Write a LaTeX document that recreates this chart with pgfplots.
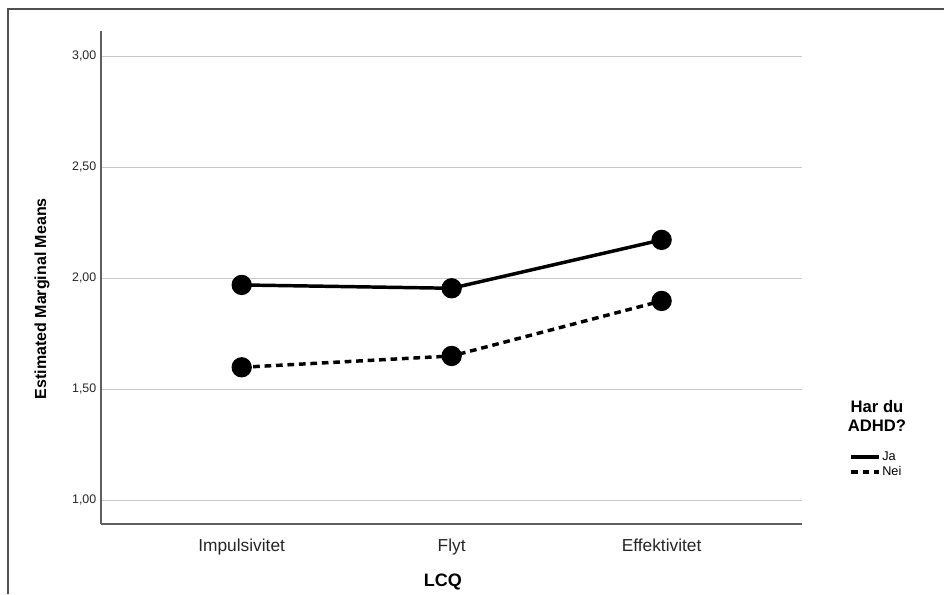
\documentclass[border=0pt]{standalone}
\usepackage{pgfplots}
\pgfplotsset{compat=1.18}
\usepackage{fontspec}
\setmainfont{Liberation Sans}
\definecolor{gridc}{RGB}{200,200,200}
\definecolor{axc}{RGB}{95,95,95}
\definecolor{framec}{RGB}{80,80,80}
\begin{document}
\begin{tikzpicture}
\begin{axis}[
  scale only axis,
  width=525.5pt, height=369.75pt,
  xmin=-0.670, xmax=2.667,
  ymin=0.893, ymax=3.114,
  axis lines=left,
  axis line style={-, color=axc, line width=1pt},
  xtick=data,
  xticklabels={Impulsivitet, Flyt, Effektivitet},
  ytick={1,1.5,2,2.5,3},
  major tick length=0pt,
  ymajorgrids,
  grid style={color=gridc, line width=1pt},
  /pgf/number format/assume math mode=true,
  yticklabel style={font=\fontsize{9.3}{11}\selectfont, color=black!85, /pgf/number format/fixed, /pgf/number format/fixed zerofill, /pgf/number format/precision=2, /pgf/number format/use comma},
  xticklabel style={font=\fontsize{13}{15}\selectfont, color=black!85, anchor=north, yshift=-8pt},
  ylabel={Estimated Marginal Means},
  xlabel={LCQ},
  every axis y label/.style={at={(axis description cs:-0.0842,0.457)}, rotate=90, anchor=center, font=\fontsize{12}{14}\selectfont\bfseries},
  every axis x label/.style={at={(axis description cs:0.488,-0.1166)}, anchor=center, font=\fontsize{13.5}{16}\selectfont\bfseries},
  legend style={at={(axis description cs:1.0675,0.150)}, anchor=north west, draw=none, fill=none, inner sep=0pt, font=\fontsize{9.5}{11}\selectfont, row sep=1pt, nodes={inner sep=1pt}},
  legend cell align=left,
  legend image code/.code={\draw[#1,mark=none,line width=2.8pt] (0pt,0pt) -- (21pt,0pt);},
  clip=false,
]
\addplot[black, line width=2.6pt, mark=*, mark size=6.3pt, mark options={solid}] coordinates {(0,1.970) (1,1.955) (2,2.173)};
\addlegendentry{Ja}
\addplot[black, line width=2.6pt, dash pattern=on 5pt off 3.6pt, mark=*, mark size=6.3pt, mark options={solid}] coordinates {(0,1.599) (1,1.650) (2,1.898)};
\addlegendentry{Nei}
\node[align=center, font=\fontsize{12.5}{14}\selectfont\bfseries, inner sep=0pt] at (axis description cs:1.1075,0.219) {Har du\\ADHD?};
\end{axis}
\draw[framec, line width=1.2pt] (-69.75pt,-52.5pt) -- (-69.75pt,386.25pt) -- (632.25pt,386.25pt);
\pgfresetboundingbox
\useasboundingbox (-75.75pt,-52.5pt) rectangle (632.25pt,393pt);
\end{tikzpicture}
\end{document}
